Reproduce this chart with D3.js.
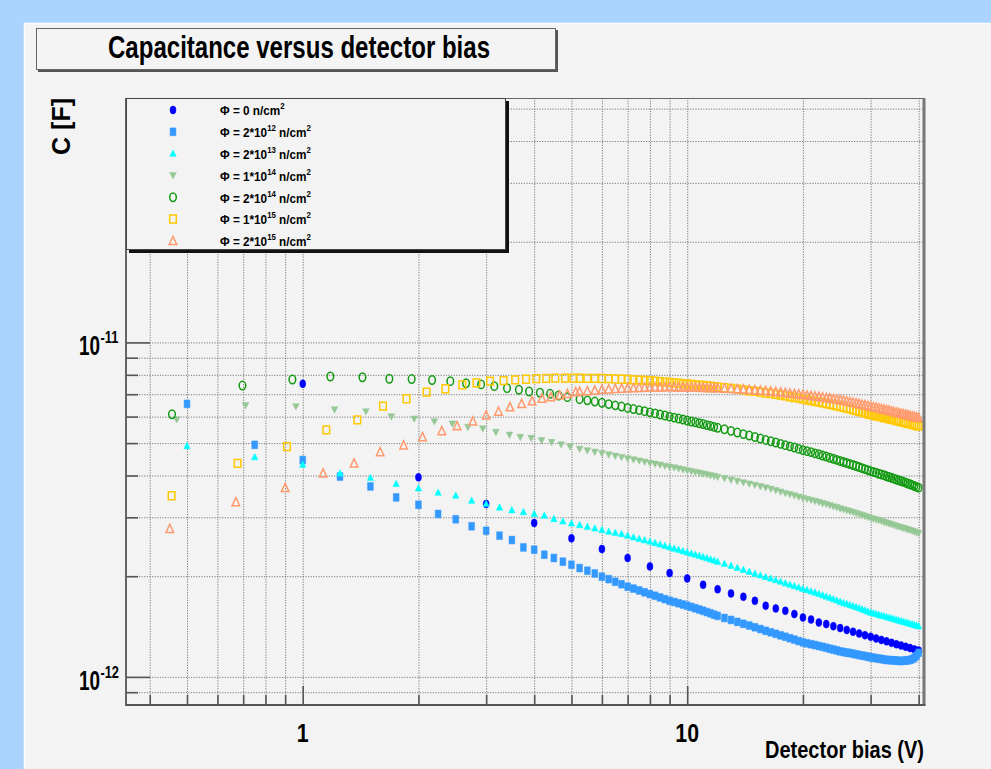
<!DOCTYPE html>
<html>
<head>
<meta charset="utf-8">
<script src="https://cdn.jsdelivr.net/npm/d3@7"></script>
<style>
  body { margin: 0; background: #aad4fd; }
  svg { display: block; font-family: "Liberation Sans", Arial, sans-serif; }
</style>
</head>
<body>
<div id="chart"></div>
<script>
// Capacitance (pF) versus detector bias (V)

var legendLabels = ["0", "2*10|12", "2*10|13", "1*10|14", "2*10|14", "1*10|15", "2*10|15"];

// Phi = 0 : one point per volt
var bias0 = [1,2,3,4,5,6,7,8,9,10,11,12,13,14,15,16,17,18,19,20,21,22,23,24,25,26,27,28,29,30,31,32,33,34,35,36,37,38,39,40];
var cap0 = [7.52,3.95,3.29,2.886,2.595,2.412,2.267,2.139,2.044,1.969,1.886,1.828,1.776,1.736,1.688,1.632,1.602,1.576,1.541,1.505,
  1.484,1.454,1.438,1.418,1.399,1.381,1.364,1.348,1.333,1.318,1.303,1.290,1.277,1.264,1.252,1.241,1.230,1.219,1.208,1.199];

// low bias part, read point by point
var biasLow2e12 = [0.5,0.75,1,1.25,1.5,1.75,2,2.25,2.5,2.75,3,3.25,3.5,3.75,4,4.25,4.5,4.75,5];
var capLow2e12 = [6.55,4.94,4.45,3.97,3.71,3.44,3.27,3.07,2.96,2.82,2.735,2.644,2.565,2.438,2.40,2.319,2.267,2.21,2.164];
var biasLow2e13 = [0.5,0.75,1,1.25,1.5,1.75,2,2.25,2.5,2.75,3,3.25,3.5,3.75,4,4.25,4.5,4.75,5];
var capLow2e13 = [4.90,4.54,4.31,4.06,3.935,3.776,3.663,3.556,3.483,3.365,3.29,3.21,3.15,3.11,3.07,3.034,2.966,2.917,2.877];
var biasLow1e14 = [0.47,0.71,0.96,1.21,1.46,1.70,1.95,2.20,2.45,2.69,2.94,3.18,3.45,3.68,3.93,4.18,4.44,4.70,4.96];
var capLow1e14 = [5.88,6.48,6.43,6.29,6.21,6.00,5.91,5.80,5.71,5.58,5.52,5.39,5.29,5.21,5.17,5.09,5.03,4.95,4.88];
var biasLow2e14 = [0.457,0.697,0.94,1.18,1.43,1.68,1.92,2.17,2.42,2.66,2.91,3.15,3.40,3.65,3.88,4.14,4.40,4.63,4.88];
var capLow2e14 = [6.10,7.43,7.75,7.91,7.87,7.79,7.77,7.72,7.66,7.55,7.49,7.40,7.30,7.22,7.13,7.07,7.02,6.94,6.86];
var biasLow1e15 = [0.456,0.677,0.91,1.152,1.387,1.617,1.862,2.10,2.35,2.60,2.83,3.07,3.33,3.57,3.81,4.05,4.30,4.54,4.81,5.06];
var capLow1e15 = [3.48,4.35,4.88,5.48,5.87,6.45,6.785,7.10,7.27,7.47,7.57,7.66,7.69,7.73,7.76,7.79,7.81,7.82,7.82,7.82];
var biasLow2e15 = [0.451,0.67,0.90,1.13,1.36,1.59,1.83,2.05,2.30,2.52,2.77,3.00,3.23,3.46,3.71,3.95,4.19,4.42,4.66,4.88,5.13];
var capLow2e15 = [2.77,3.33,3.67,4.06,4.35,4.70,4.92,5.21,5.43,5.62,5.81,6.05,6.21,6.40,6.55,6.67,6.79,6.86,6.94,7.02,7.10];

// dense part: shared bias steps
var biasFine = [5.25,5.5,5.75,6,6.25,6.5,6.75,7,7.25,7.5,7.75,8,8.25,8.5,8.75,9,9.25,9.5,9.75,10,10.25,10.5,10.75,11,11.25,11.5,11.75,12,
  12.5,13,13.5,14,14.5,15,15.5,16,16.5,17,17.5,18,18.5,19,19.5,20,20.5,21,21.5,22,22.5,23,23.5,24,24.5,25,
  25.5,26,26.5,27,27.5,28,28.5,29,29.5,30,30.5,31,31.5,32,32.5,33,33.5,34,34.5,35,35.5,36,36.5,37,37.5,38,38.5,39,39.5,40];

var capFine2e12 = [2.115,2.077,2.038,1.993,1.96,1.925,1.893,1.86,1.836,1.813,1.79,1.768,1.748,1.728,1.708,1.689,1.675,1.66,1.646,1.632,1.618,1.604,1.59,1.576,1.562,1.549,1.535,1.522,
  1.50,1.48,1.46,1.441,1.424,1.407,1.39,1.373,1.359,1.345,1.331,1.318,1.305,1.293,1.28,1.268,
  1.26,1.252,1.245,1.237,1.23,1.222,1.214,1.207,1.2,1.192,
  1.187,1.182,1.178,1.173,1.168,1.163,1.158,1.154,1.149,1.144,
  1.141,1.137,1.134,1.131,1.127,1.124,1.123,1.121,1.12,1.119,
  1.117,1.116,1.117,1.119,1.121,1.124,1.13,1.14,1.157,1.18];
var capFine2e13 = [2.845,2.812,2.78,2.75,2.718,2.695,2.675,2.644,2.613,2.586,2.562,2.537,2.513,2.49,2.466,2.442,2.42,2.399,2.377,2.356,2.338,2.32,2.301,2.283,2.265,2.246,2.228,2.21,
  2.18,2.15,2.12,2.09,2.062,2.034,2.011,1.989,1.968,1.947,1.926,1.905,1.887,1.869,1.852,1.834,
  1.818,1.802,1.787,1.771,1.755,1.74,1.724,1.708,1.693,1.677,
  1.665,1.653,1.641,1.629,1.617,1.605,1.593,1.581,1.569,1.557,
  1.549,1.541,1.534,1.526,1.519,1.511,1.504,1.496,1.489,1.481,
  1.475,1.468,1.462,1.455,1.449,1.442,1.436,1.43,1.423,1.417];
var capFine1e14 = [4.80,4.75,4.705,4.656,4.615,4.575,4.535,4.495,4.46,4.425,4.39,4.357,4.33,4.30,4.27,4.244,4.22,4.19,4.165,4.138,4.115,4.09,4.07,4.047,4.025,4.00,3.98,3.956,
  3.92,3.88,3.845,3.809,3.777,3.745,3.71,3.68,3.645,3.61,3.574,3.538,3.51,3.48,3.452,3.423,
  3.40,3.375,3.35,3.327,3.30,3.28,3.255,3.23,3.21,3.184,
  3.164,3.144,3.124,3.104,3.084,3.064,3.043,3.023,3.003,2.983,
  2.967,2.95,2.935,2.92,2.90,2.886,2.87,2.854,2.838,2.822,
  2.81,2.796,2.782,2.77,2.755,2.742,2.73,2.715,2.70,2.689];
var capFine2e14 = [6.765,6.71,6.655,6.60,6.54,6.485,6.43,6.37,6.32,6.275,6.23,6.18,6.135,6.09,6.045,6.00,5.96,5.92,5.88,5.84,5.80,5.77,5.73,5.70,5.66,5.63,5.59,5.555,
  5.50,5.44,5.38,5.32,5.27,5.215,5.16,5.11,5.065,5.02,4.975,4.93,4.89,4.85,4.805,4.765,
  4.73,4.70,4.66,4.63,4.59,4.56,4.52,4.49,4.455,4.42,
  4.39,4.36,4.33,4.30,4.27,4.24,4.21,4.18,4.15,4.124,
  4.10,4.08,4.05,4.03,4.01,3.98,3.96,3.94,3.915,3.89,
  3.87,3.85,3.83,3.81,3.785,3.765,3.745,3.72,3.70,3.68];
var capFine1e15 = [7.815,7.81,7.805,7.80,7.79,7.775,7.76,7.75,7.73,7.715,7.70,7.68,7.66,7.635,7.61,7.59,7.57,7.55,7.53,7.51,7.49,7.47,7.455,7.435,7.415,7.40,7.38,7.36,
  7.32,7.285,7.25,7.21,7.17,7.135,7.10,7.06,7.025,6.99,6.955,6.92,6.88,6.845,6.81,6.77,
  6.735,6.70,6.67,6.635,6.60,6.565,6.53,6.50,6.465,6.43,
  6.395,6.36,6.325,6.29,6.255,6.22,6.19,6.155,6.12,6.085,
  6.06,6.036,6.01,5.987,5.96,5.94,5.913,5.89,5.865,5.84,
  5.82,5.796,5.774,5.75,5.73,5.708,5.686,5.664,5.64,5.62];
var capFine2e15 = [7.12,7.15,7.185,7.218,7.24,7.26,7.28,7.298,7.305,7.315,7.325,7.333,7.337,7.34,7.345,7.348,7.345,7.34,7.337,7.333,7.328,7.323,7.318,7.313,7.308,7.303,7.298,7.293,
  7.278,7.263,7.248,7.233,7.214,7.195,7.177,7.158,7.135,7.11,7.085,7.06,7.035,7.01,6.99,6.965,
  6.94,6.917,6.893,6.87,6.845,6.82,6.797,6.773,6.75,6.725,
  6.696,6.666,6.637,6.607,6.578,6.548,6.519,6.49,6.46,6.43,
  6.404,6.378,6.352,6.326,6.30,6.274,6.248,6.222,6.196,6.17,
  6.147,6.125,6.102,6.079,6.056,6.034,6.011,5.988,5.966,5.943];

// axis ticks (bias in V, capacitance in pF)
var xMinorTicks = [0.4,0.5,0.6,0.7,0.8,0.9,2,3,4,5,6,7,8,9,20,30,40];
var xMajorTicks = [1, 10];
var xTickLabels = ["1", "10"];
var yMinorTicks = [0.9,2,3,4,5,6,7,8,9,20,30,40,50];
var yMajorTicks = [1, 10];
var yTickLabels = ["-12", "-11"];

var svgWidth = 991, svgHeight = 769;
var plot = { left: 126, right: 924, top: 98, bottom: 705 };

var svg = d3.select("#chart").append("svg")
  .attr("width", svgWidth)
  .attr("height", svgHeight);

// canvas background
svg.append("rect").attr("x", 24).attr("y", 23).attr("width", svgWidth - 24).attr("height", svgHeight - 23)
  .attr("fill", "#f3f3f3");
svg.append("path").attr("d", "M24.5,769 V23.5 H991").attr("fill", "none").attr("stroke", "#fbfbfb").attr("stroke-width", 1.5);

var x = d3.scaleLog().domain([0.347, 41.3]).range([plot.left, plot.right]);
var y = d3.scaleLog().domain([0.824, 53.8]).range([plot.bottom, plot.top]);

// dotted grid on every tick
svg.append("g")
  .attr("transform", `translate(0,${plot.bottom})`)
  .call(d3.axisBottom(x).tickValues(xMinorTicks.concat(xMajorTicks)).tickSize(-(plot.bottom - plot.top)).tickFormat(""))
  .call(g => g.select(".domain").remove())
  .selectAll("line").attr("stroke", "#7a7a7a").attr("stroke-dasharray", "1.2,1.4");
svg.append("g")
  .attr("transform", `translate(${plot.left},0)`)
  .call(d3.axisLeft(y).tickValues(yMinorTicks.concat(yMajorTicks)).tickSize(-(plot.right - plot.left)).tickFormat(""))
  .call(g => g.select(".domain").remove())
  .selectAll("line").attr("stroke", "#7a7a7a").attr("stroke-dasharray", "1.2,1.4");

// marker shapes
function markerPath(type) {
  switch (type) {
    case "dot":    return "M-3,0a3,4 0 1,0 6,0a3,4 0 1,0 -6,0Z";
    case "square": return "M-2.9,-3.9H2.9V3.9H-2.9Z";
    case "tri":    return "M0,-3.7L3.2,2.7H-3.2Z";
    case "tridown":return "M0,3.5L3.4,-2.9H-3.4Z";
    case "ocircle":return "M-3.3,0a3.3,4.2 0 1,0 6.6,0a3.3,4.2 0 1,0 -6.6,0Z";
    case "osquare":return "M-3.3,-3.9H3.3V3.9H-3.3Z";
    case "otri":   return "M0,-4.6L3.8,3.6H-3.8Z";
  }
}

function pairs(vs, cs) { return vs.map((v, i) => ({ v: v, c: cs[i] })); }

var series = [
  { type: "dot",     color: "#0000ff", open: false, data: pairs(bias0, cap0) },
  { type: "square",  color: "#3399ff", open: false, data: pairs(biasLow2e12, capLow2e12).concat(pairs(biasFine, capFine2e12)) },
  { type: "tri",     color: "#00ffff", open: false, data: pairs(biasLow2e13, capLow2e13).concat(pairs(biasFine, capFine2e13)) },
  { type: "tridown", color: "#96c896", open: false, data: pairs(biasLow1e14, capLow1e14).concat(pairs(biasFine, capFine1e14)) },
  { type: "ocircle", color: "#129a12", open: true,  data: pairs(biasLow2e14, capLow2e14).concat(pairs(biasFine, capFine2e14)) },
  { type: "osquare", color: "#ffc800", open: true,  data: pairs(biasLow1e15, capLow1e15).concat(pairs(biasFine, capFine1e15)) },
  { type: "otri",    color: "#ff9a6c", open: true,  data: pairs(biasLow2e15, capLow2e15).concat(pairs(biasFine, capFine2e15)) }
];

function styleMarker(sel, s) {
  sel.attr("d", markerPath(s.type))
    .attr("fill", s.open ? "none" : s.color)
    .attr("stroke", s.color)
    .attr("stroke-width", s.open ? 1.5 : 0.5);
}

series.forEach(function (s) {
  svg.append("g").selectAll("path")
    .data(s.data)
    .enter()
    .append("path")
    .attr("transform", d => `translate(${x(d.v)},${y(d.c)})`)
    .call(styleMarker, s);
});

// ticks: minor and major, drawn inside the frame
function tickAxis(axis, pos, values, size) {
  svg.append("g")
    .attr("transform", pos)
    .call(axis.tickValues(values).tickSize(-size).tickFormat(""))
    .call(g => g.select(".domain").remove())
    .selectAll("line").attr("stroke", "#555").attr("stroke-width", 1.6);
}
tickAxis(d3.axisBottom(x), `translate(0,${plot.bottom})`, xMinorTicks, 10);
tickAxis(d3.axisBottom(x), `translate(0,${plot.bottom})`, xMajorTicks, 19);
tickAxis(d3.axisLeft(y), `translate(${plot.left},0)`, yMinorTicks, 12);
tickAxis(d3.axisLeft(y), `translate(${plot.left},0)`, yMajorTicks, 24);

// frame
svg.append("line").attr("x1", plot.left).attr("x2", plot.right).attr("y1", plot.top + 0.5).attr("y2", plot.top + 0.5)
  .attr("stroke", "#666").attr("stroke-width", 1);
svg.append("line").attr("x1", plot.right).attr("x2", plot.right).attr("y1", plot.top).attr("y2", plot.bottom)
  .attr("stroke", "#777").attr("stroke-width", 3);
svg.append("line").attr("x1", plot.left).attr("x2", plot.left).attr("y1", plot.top).attr("y2", plot.bottom + 1)
  .attr("stroke", "#555").attr("stroke-width", 1.8);
svg.append("line").attr("x1", plot.left).attr("x2", plot.right + 1.5).attr("y1", plot.bottom).attr("y2", plot.bottom)
  .attr("stroke", "#555").attr("stroke-width", 1.8);

// tick labels
svg.selectAll("text.xlab")
  .data(xMajorTicks)
  .enter()
  .append("text")
  .attr("class", "xlab")
  .attr("x", d => x(d))
  .attr("y", 742)
  .attr("text-anchor", "middle")
  .attr("font-size", 26)
  .attr("font-weight", "bold")
  .attr("transform", d => `translate(${x(d)},0) scale(0.82,1) translate(${-x(d)},0)`)
  .text((d, i) => xTickLabels[i]);

yMajorTicks.forEach(function (t, i) {
  svg.append("text")
    .attr("x", 100)
    .attr("y", y(t) + 13)
    .attr("text-anchor", "end")
    .attr("font-size", 27)
    .attr("font-weight", "bold")
    .attr("transform", "translate(100,0) scale(0.7,1) translate(-100,0)")
    .text("10");
  svg.append("text")
    .attr("x", 100.5)
    .attr("y", y(t) + 1)
    .attr("font-size", 16)
    .attr("font-weight", "bold")
    .attr("transform", "translate(100.5,0) scale(0.8,1) translate(-100.5,0)")
    .text(yTickLabels[i]);
});

// axis titles
svg.append("text")
  .attr("x", 924)
  .attr("y", 758)
  .attr("text-anchor", "end")
  .attr("font-size", 23)
  .attr("font-weight", "bold")
  .attr("textLength", 159)
  .attr("lengthAdjust", "spacingAndGlyphs")
  .text("Detector bias (V)");

svg.append("text")
  .attr("transform", "translate(70,98) rotate(-90)")
  .attr("text-anchor", "end")
  .attr("font-size", 25)
  .attr("font-weight", "bold")
  .text("C [F]");

// title box
svg.append("rect").attr("x", 38).attr("y", 30).attr("width", 520).attr("height", 42).attr("fill", "#555");
svg.append("rect").attr("x", 36.5).attr("y", 28.5).attr("width", 519).attr("height", 41)
  .attr("fill", "#f4f4f4").attr("stroke", "#666").attr("stroke-width", 1);
svg.append("text")
  .attr("x", 108)
  .attr("y", 57.5)
  .attr("font-size", 32)
  .attr("font-weight", "bold")
  .attr("textLength", 382)
  .attr("lengthAdjust", "spacingAndGlyphs")
  .text("Capacitance versus detector bias");

// legend
var legend = svg.append("g");
legend.append("rect").attr("x", 129).attr("y", 101).attr("width", 380).attr("height", 152).attr("fill", "#111");
legend.append("rect").attr("x", 126.5).attr("y", 98.5).attr("width", 379).attr("height", 151)
  .attr("fill", "#f3f3f3").attr("stroke", "#444").attr("stroke-width", 1);

series.forEach(function (s, i) {
  var rowY = 110 + i * 21.8;
  legend.append("path")
    .attr("transform", `translate(173,${rowY})`)
    .call(styleMarker, s);
  var t = legend.append("text")
    .attr("x", 220)
    .attr("y", rowY + 5.5)
    .attr("font-size", 13.5)
    .attr("font-weight", "bold")
    .attr("transform", "translate(220,0) scale(0.87,1) translate(-220,0)");
  var parts = legendLabels[i].split("|");
  t.append("tspan").text("\u03A6 = " + parts[0]);
  if (parts.length > 1) {
    t.append("tspan").attr("font-size", 9).attr("dy", -6).text(parts[1]);
    t.append("tspan").attr("dy", 6).text(" n/cm");
  } else {
    t.append("tspan").text(" n/cm");
  }
  t.append("tspan").attr("font-size", 9).attr("dy", -6).text("2");
});
</script>
</body>
</html>
